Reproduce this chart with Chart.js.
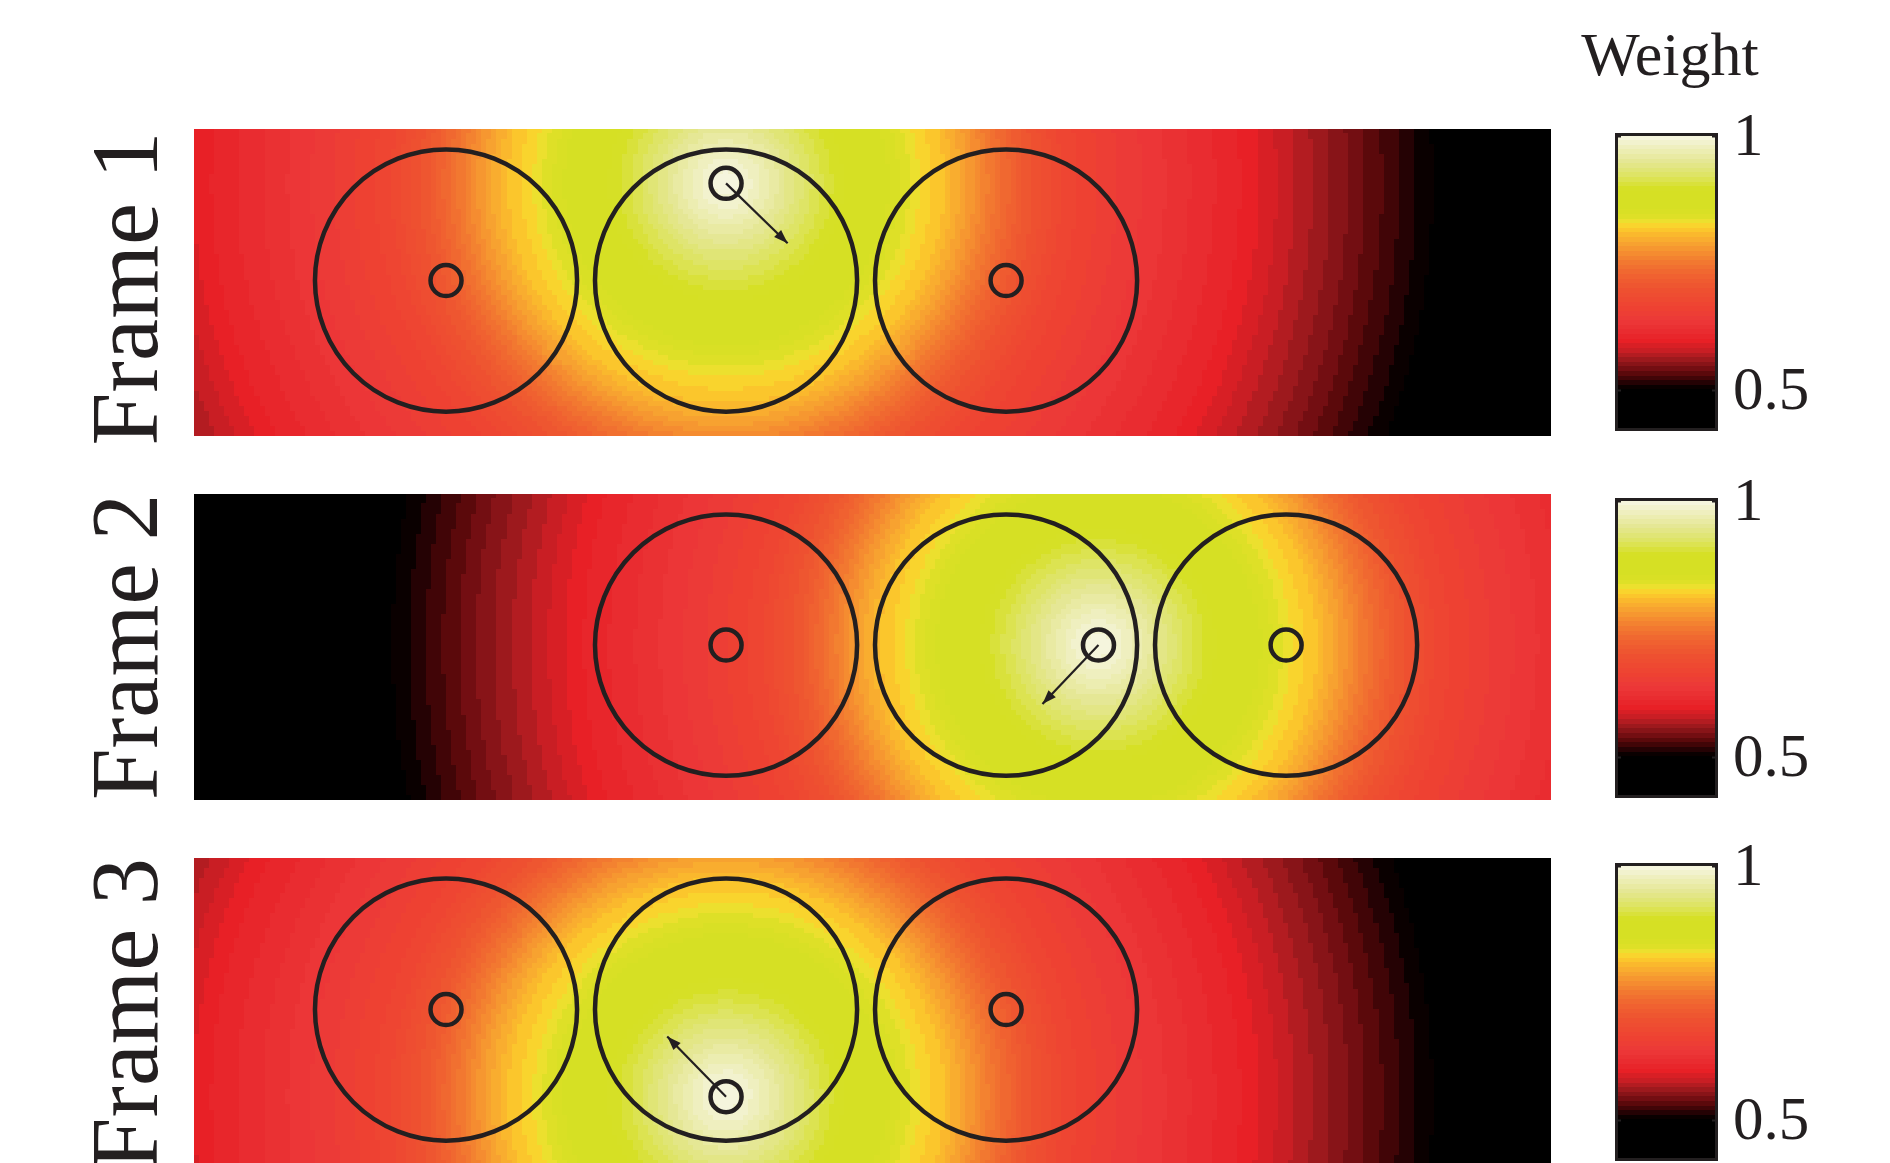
<!DOCTYPE html>
<html>
<head>
<meta charset="utf-8">
<script src="https://cdn.jsdelivr.net/npm/chart.js@4.4.1/dist/chart.umd.min.js"></script>
<style>
  html, body { margin: 0; padding: 0; background: #ffffff; width: 1890px; height: 1163px; overflow: hidden; }
  canvas { position: absolute; }
</style>
</head>
<body>
<script>
// ---- data ----
const frameNames = ['Frame 1', 'Frame 2', 'Frame 3'];
const tankCentersX = [[0.9, 1.9, 2.9], [1.9, 2.9, 3.9], [0.9, 1.9, 2.9]];
const tankCenterY = 0.555;
const tankRadius = 0.468;
const fixedSensorsX = [[0.9, 2.9], [1.9, 3.9], [0.9, 2.9]];
const fixedSensorY = 0.555;
const movingSensorX = [1.9, 3.23, 1.9];
const movingSensorY = [0.902, 0.555, 0.244];
const arrowTipX = [2.12, 3.03, 1.69];
const arrowTipY = [0.688, 0.344, 0.459];
// weight as a function of distance from the moving sensor
const profileDistance = [0, 0.1, 0.2, 0.3, 0.4, 0.5, 0.6, 0.65, 0.7, 0.78, 0.87, 0.95, 1.06, 1.21, 1.41, 1.6, 1.85, 2.0, 2.2, 2.4, 2.5, 2.6, 3.0, 6.0];
const profileWeight   = [1.0, 0.98, 0.95, 0.92, 0.895, 0.875, 0.85, 0.838, 0.825, 0.81, 0.78, 0.75, 0.71, 0.67, 0.645, 0.625, 0.6, 0.578, 0.55, 0.52, 0.505, 0.49, 0.45, 0.42];
const colorbarTicks = [0.5, 1];
const colorbarTickText = ['0.5', '1'];
// colour map stops (weight -> colour)
const cmapValues = [0.42, 0.5, 0.506, 0.516, 0.529, 0.545, 0.562, 0.578, 0.597, 0.611, 0.636, 0.662, 0.70, 0.728, 0.753, 0.772, 0.792, 0.808, 0.821, 0.831, 0.837, 0.856, 0.895, 0.922, 0.947, 0.973, 1.0];
const cmapColors = ['#000000', '#000000', '#0a0000', '#280204', '#500608', '#7a1014', '#a01a1e', '#c81e24', '#e82026', '#e82a2e', '#ec3838', '#ee4232', '#ee5230', '#f06430', '#f27a30', '#f59030', '#f8a830', '#fbbc2c', '#fcd02c', '#f0e030', '#e0e028', '#d6e024', '#d6e024', '#dee464', '#e4e690', '#eeeeb8', '#f7f7e4'];

// ---- helpers ----
const INK = '#231f20';
const SERIF = "'Liberation Serif', 'Times New Roman', serif";
const PANEL_XMAX = 4.846, PANEL_YMAX = 1.096;
const CELL = 0.018;
const LEVELS = 64, CMIN = 0.42, CMAX = 1.0;

function hexToRgb(h) {
  return [parseInt(h.slice(1, 3), 16), parseInt(h.slice(3, 5), 16), parseInt(h.slice(5, 7), 16)];
}
function cmapAt(v) {
  if (v <= cmapValues[0]) return hexToRgb(cmapColors[0]);
  for (let i = 1; i < cmapValues.length; i++) {
    if (v <= cmapValues[i]) {
      const t = (v - cmapValues[i - 1]) / (cmapValues[i] - cmapValues[i - 1]);
      const a = hexToRgb(cmapColors[i - 1]), b = hexToRgb(cmapColors[i]);
      return a.map((c, k) => Math.round(c + (b[k] - c) * t));
    }
  }
  return hexToRgb(cmapColors[cmapColors.length - 1]);
}
const levelColors = [];
for (let i = 0; i < LEVELS; i++) {
  const c = cmapAt(CMIN + (i + 0.5) * (CMAX - CMIN) / LEVELS);
  levelColors.push(`rgb(${c[0]},${c[1]},${c[2]})`);
}
function levelOf(w) {
  return Math.max(0, Math.min(LEVELS - 1, Math.floor((w - CMIN) / (CMAX - CMIN) * LEVELS)));
}
function weightAt(d) {
  if (d <= profileDistance[0]) return profileWeight[0];
  for (let i = 1; i < profileDistance.length; i++) {
    if (d <= profileDistance[i]) {
      const t = (d - profileDistance[i - 1]) / (profileDistance[i] - profileDistance[i - 1]);
      return profileWeight[i - 1] + (profileWeight[i] - profileWeight[i - 1]) * t;
    }
  }
  return profileWeight[profileWeight.length - 1];
}

// weight field + tank outlines, drawn under the datasets
const fieldPlugin = {
  id: 'weightField',
  beforeDatasetsDraw(chart, args, opts) {
    const k = opts.frame;
    const { ctx, chartArea: a, scales: { x, y } } = chart;
    const sx = movingSensorX[k], sy = movingSensorY[k];
    ctx.save();
    ctx.beginPath();
    ctx.rect(a.left, a.top, a.right - a.left, a.bottom - a.top);
    ctx.clip();
    const nx = Math.ceil(x.max / CELL), ny = Math.ceil(y.max / CELL);
    for (let i = 0; i < nx; i++) {
      const x0 = i * CELL;
      const px0 = Math.round(x.getPixelForValue(x0));
      const px1 = Math.round(x.getPixelForValue(x0 + CELL));
      for (let j = 0; j < ny; j++) {
        const y0 = j * CELL;
        const py0 = Math.round(y.getPixelForValue(y0 + CELL));
        const py1 = Math.round(y.getPixelForValue(y0));
        const d = Math.hypot(x0 + CELL / 2 - sx, y0 + CELL / 2 - sy);
        ctx.fillStyle = levelColors[levelOf(weightAt(d))];
        ctx.fillRect(px0, py0, px1 - px0, py1 - py0);
      }
    }
    ctx.strokeStyle = INK;
    ctx.lineWidth = 4.5;
    for (const cx of tankCentersX[k]) {
      const px = x.getPixelForValue(cx), py = y.getPixelForValue(tankCenterY);
      const rx = x.getPixelForValue(cx + tankRadius) - px;
      const ry = py - y.getPixelForValue(tankCenterY + tankRadius);
      ctx.beginPath();
      ctx.ellipse(px, py, rx, ry, 0, 0, Math.PI * 2);
      ctx.stroke();
    }
    ctx.restore();
  },
  afterDatasetsDraw(chart, args, opts) {
    const k = opts.frame;
    const { ctx, scales: { x, y } } = chart;
    const x0 = x.getPixelForValue(movingSensorX[k]), y0 = y.getPixelForValue(movingSensorY[k]);
    const x1 = x.getPixelForValue(arrowTipX[k]), y1 = y.getPixelForValue(arrowTipY[k]);
    const ang = Math.atan2(y1 - y0, x1 - x0);
    const len = 14, half = 5;
    ctx.save();
    ctx.fillStyle = INK;
    ctx.beginPath();
    ctx.moveTo(x1, y1);
    ctx.lineTo(x1 - len * Math.cos(ang) + half * Math.sin(ang), y1 - len * Math.sin(ang) - half * Math.cos(ang));
    ctx.lineTo(x1 - len * Math.cos(ang) - half * Math.sin(ang), y1 - len * Math.sin(ang) + half * Math.cos(ang));
    ctx.closePath();
    ctx.fill();
    ctx.restore();
  }
};

// colour bar bands + frame
const colorbarPlugin = {
  id: 'colorbarBands',
  beforeDatasetsDraw(chart) {
    const { ctx, chartArea: a, scales: { y } } = chart;
    ctx.save();
    const step = (CMAX - CMIN) / LEVELS;
    for (let i = 0; i < LEVELS; i++) {
      const lo = CMIN + i * step;
      const hi = i === LEVELS - 1 ? y.max : lo + step;
      const p0 = Math.round(y.getPixelForValue(hi)), p1 = Math.round(y.getPixelForValue(lo));
      ctx.fillStyle = levelColors[i];
      ctx.fillRect(a.left, p0, a.right - a.left, p1 - p0);
    }
    ctx.strokeStyle = INK;
    ctx.lineWidth = 3;
    ctx.strokeRect(a.left + 1.5, a.top + 1.5, a.right - a.left - 3, a.bottom - a.top - 3);
    ctx.lineWidth = 2;
    for (const t of colorbarTicks) {
      const py = Math.round(y.getPixelForValue(t)) + 0.5;
      ctx.beginPath();
      ctx.moveTo(a.left, py); ctx.lineTo(a.left + 6, py);
      ctx.moveTo(a.right, py); ctx.lineTo(a.right - 6, py);
      ctx.stroke();
    }
    ctx.restore();
  }
};

function addCanvas(left, top, width, height) {
  const c = document.createElement('canvas');
  c.width = width; c.height = height;
  c.style.left = left + 'px'; c.style.top = top + 'px';
  c.style.width = width + 'px'; c.style.height = height + 'px';
  document.body.appendChild(c);
  return c;
}

// ---- frame panels ----
// shift: extra space under the plot area, which moves the side label down by shift/2
const panelLayout = [
  { top: 100, areaTop: 129, areaBottom: 436, shift: 12 },
  { top: 465, areaTop: 494, areaBottom: 800, shift: 0 },
  { top: 829, areaTop: 858, areaBottom: 1165, shift: 5 }
];

frameNames.forEach((name, k) => {
  const L = panelLayout[k];
  const canvas = addCanvas(0, L.top, 1560, L.areaBottom + L.shift - L.top);
  const sensors = fixedSensorsX[k].map(v => ({ x: v, y: fixedSensorY }));
  sensors.push({ x: movingSensorX[k], y: movingSensorY[k] });
  new Chart(canvas, {
    type: 'scatter',
    data: {
      datasets: [
        {
          type: 'line',
          data: [{ x: movingSensorX[k], y: movingSensorY[k] }, { x: arrowTipX[k], y: arrowTipY[k] }],
          borderColor: INK, borderWidth: 2.2, pointRadius: 0, fill: false, tension: 0
        },
        {
          data: sensors,
          pointRadius: 15.5, pointBorderWidth: 4.5,
          pointBackgroundColor: 'rgba(0,0,0,0)', pointBorderColor: INK, showLine: false
        }
      ]
    },
    options: {
      responsive: false, animation: false, events: [],
      layout: { autoPadding: false, padding: { left: 0, right: 9, top: L.areaTop - L.top, bottom: 0 } },
      scales: {
        x: {
          type: 'linear', min: 0, max: PANEL_XMAX, position: 'bottom',
          display: L.shift > 0,
          ticks: { display: false }, grid: { display: false, drawTicks: false }, border: { display: false },
          afterFit: s => { s.height = L.shift; }
        },
        y: { type: 'linear', min: 0, max: PANEL_YMAX, display: false }
      },
      plugins: {
        legend: { display: false }, tooltip: { enabled: false },
        title: {
          display: true, position: 'left', text: name, color: INK,
          font: { family: SERIF, size: 95, weight: 'normal' },
          padding: { top: 75, bottom: 5 }
        },
        weightField: { frame: k }
      }
    },
    plugins: [fieldPlugin]
  });
});

// ---- colour bars ----
const barLayout = [
  { top: 0, areaTop: 133, areaBottom: 431 },
  { top: 430, areaTop: 498, areaBottom: 798 },
  { top: 795, areaTop: 863, areaBottom: 1161 }
];

barLayout.forEach((B, k) => {
  const padBottom = 70;
  const height = B.areaBottom + padBottom - B.top;
  const canvas = addCanvas(1530, B.top, 360, height);
  new Chart(canvas, {
    type: 'scatter',
    data: { datasets: [] },
    options: {
      responsive: false, animation: false, events: [],
      layout: { autoPadding: false, padding: { left: 2, right: 82, top: k === 0 ? 0 : B.areaTop - B.top, bottom: padBottom } },
      scales: {
        x: { min: 0, max: 1, display: false },
        gap: {
          type: 'linear', position: 'left', min: 0, max: 1,
          ticks: { display: false }, grid: { display: false, drawTicks: false }, border: { display: false },
          afterFit: s => { s.width = 83; }
        },
        y: {
          position: 'right', min: CMIN, max: 1.005,
          afterBuildTicks: s => { s.ticks = colorbarTicks.map(v => ({ value: v })); },
          ticks: {
            padding: 15, labelOffset: 3, color: INK,
            font: { family: SERIF, size: 61 },
            callback: v => colorbarTickText[colorbarTicks.indexOf(v)]
          },
          grid: { display: false, drawTicks: false }, border: { display: false },
          afterFit: s => { s.width = 90; }
        }
      },
      plugins: {
        legend: { display: false }, tooltip: { enabled: false },
        title: {
          display: k === 0, position: 'top', text: 'Weight', color: INK,
          font: { family: SERIF, size: 62, weight: 'normal' },
          padding: { top: 21.4, bottom: 37.2 }
        }
      }
    },
    plugins: [colorbarPlugin]
  });
});
</script>
</body>
</html>
